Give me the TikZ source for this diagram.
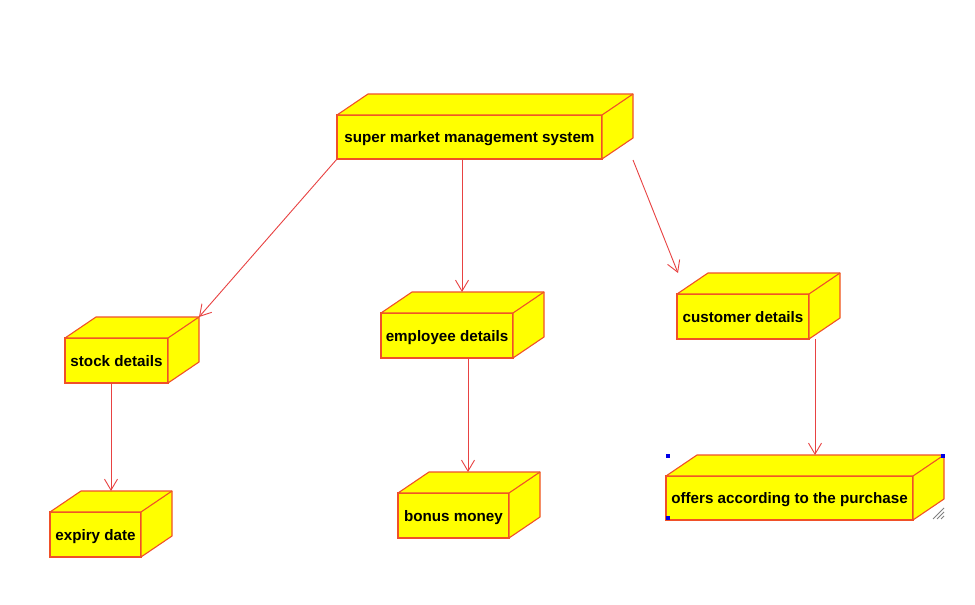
\documentclass[tikz,border=0pt]{standalone}
\usepackage{fontspec}
\setmainfont{Liberation Sans}
\usetikzlibrary{arrows.meta,calc}
\definecolor{edgec}{RGB}{240,80,40}
\definecolor{arrc}{RGB}{232,66,66}
\definecolor{boxfill}{RGB}{255,255,0}
\definecolor{handle}{RGB}{0,0,230}
\tikzset{
  frontbox/.style={draw=edgec, fill=boxfill, line width=1.1pt, inner sep=0pt, outer sep=0pt,
    text height=11pt, text depth=0pt,
    font=\bfseries\fontsize{15.2}{18}\selectfont, text=black},
  faces/.style={draw=edgec, fill=boxfill, line width=1.1pt, line join=round},
  arr/.style={draw=arrc, line width=0.9pt, -{Straight Barb[length=11pt,width=13pt]}},
  grip/.style={draw=gray, line width=0.8pt}
}
\newcommand\cubebox[6]{%
  \node[frontbox, minimum width={#4-#2}, minimum height={#5-#3}, anchor=north west] (#1) at (#2,#3) {#6};
  \filldraw[faces] (#1.north west) -- ++(31,-21) -- ++({#4-#2},0) -- ++(0,{#5-#3}) -- (#1.south east) -- (#1.north east) -- cycle;
  \draw[faces] (#1.north east) -- ++(31,-21);
  \coordinate (#1-tl) at ($(#1.north west)+(31,-21)$);
  \coordinate (#1-br) at ($(#1.north east)+(31,-21)$);
}
\begin{document}
\begin{tikzpicture}[x=1pt,y=-1pt]
\useasboundingbox (0,0) rectangle (975,605);
\fill[white] (0,0) rectangle (975,605);
\cubebox{top}{337}{115}{602}{159}{super market management system}
\cubebox{stock}{65}{338}{168}{383}{stock details}
\cubebox{emp}{381}{313}{513}{358}{employee details}
\cubebox{cust}{677}{294}{809}{339}{customer details}
\cubebox{expiry}{50}{512}{141}{557}{expiry date}
\cubebox{bonus}{398}{493}{509}{538}{bonus money}
\cubebox{offers}{666}{476}{913}{520}{offers according to the purchase}
% connectors
\draw[arr] (top.south west) -- (stock-br);
\draw[arr] ($(top.south west)+(125,0)$) -- ($(emp-tl)+(50,0)$);
\draw[arr] ($(top.south east)+(31,1)$) -- ($(cust-tl)+(-30,0)$);
\draw[arr] ($(stock.south west)+(46,0)$) -- ($(expiry-tl)+(30,0)$);
\draw[arr] ($(emp.south west)+(87,0)$) -- ($(bonus-tl)+(39,0)$);
\draw[arr] ($(cust.south west)+(138,0)$) -- ($(offers-tl)+(118,0)$);
% selection handles
\fill[handle] (666,454) rectangle ++(4,4);
\fill[handle] (941,454) rectangle ++(4,4);
\fill[handle] (666,516) rectangle ++(4,4);
\draw[grip] (933,519) -- (944,508);
\draw[grip] (937,519) -- (944,512);
\draw[grip] (941,519) -- (944,516);
\end{tikzpicture}
\end{document}
